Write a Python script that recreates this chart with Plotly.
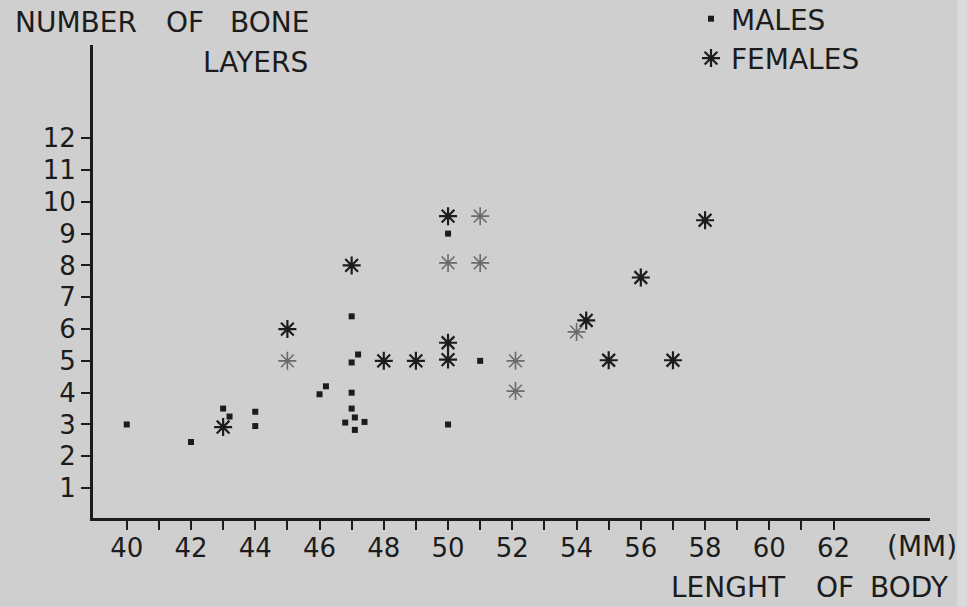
import plotly.graph_objects as go

# ---- data ----
males_x = [40, 42, 43, 43.2, 44, 44, 46, 46.2, 47, 47, 47.2, 47, 47, 47.1, 46.8, 47.1, 47.4, 50, 50, 51]
males_y = [3.0, 2.45, 3.5, 3.25, 3.4, 2.95, 3.95, 4.2, 6.4, 4.95, 5.2, 4.0, 3.5, 3.22, 3.06, 2.83, 3.08, 9.0, 3.0, 5.0]

females_x = [43, 45, 47, 48, 49, 50, 50, 50, 54.3, 55, 56, 57, 58]
females_y = [2.92, 6.0, 8.0, 5.0, 5.0, 9.55, 5.57, 5.04, 6.27, 5.02, 7.62, 5.02, 9.42]

females_faint_x = [45, 51, 50, 51, 52.1, 52.1, 54]
females_faint_y = [5.0, 9.55, 8.08, 8.08, 5.0, 4.05, 5.91]

x_ticks = list(range(40, 63))
x_tick_text = [str(v) if v % 2 == 0 else "" for v in x_ticks]
y_ticks = list(range(1, 13))

BG = "#cfcfcf"
INK = "#1c1c1c"
FONT = "DejaVu Sans"
FS = 26
FS_TXT = 28

W, H = 967, 607
L, R, T, B = 93, 37, 45, 89
PW, PH = W - L - R, H - T - B


def px(xp):
    return (xp - L) / PW


def py(yp):
    return (H - B - yp) / PH


fig = go.Figure()
fig.add_trace(go.Scatter(
    x=males_x, y=males_y, mode="markers", name="MALES",
    marker=dict(symbol="square", size=6, color=INK, line=dict(width=0)),
))
fig.add_trace(go.Scatter(
    x=females_x, y=females_y, mode="markers", name="FEMALES",
    marker=dict(symbol="asterisk-open", size=15, color=INK, line=dict(width=2.2, color="#262626")),
))
fig.add_trace(go.Scatter(
    x=females_faint_x, y=females_faint_y, mode="markers", name="FEMALES",
    showlegend=False,
    marker=dict(symbol="asterisk-open", size=15, color="#6a6a6a", line=dict(width=1.6, color="#6a6a6a")),
))

annotations = []


def word(text, x_left, y_mid):
    annotations.append(dict(
        text=text, xref="paper", yref="paper", x=px(x_left), y=py(y_mid),
        xanchor="left", yanchor="middle", showarrow=False,
        font=dict(family=FONT, size=FS_TXT, color=INK),
    ))


word("NUMBER", 13, 23)
word("OF", 164, 23)
word("BONE", 228, 23)
word("LAYERS", 201, 63)
word("(MM)", 885, 546)
word("LENGHT", 669, 587)
word("OF", 814, 587)
word("BODY", 868, 587)

fig.update_layout(
    width=W, height=H,
    margin=dict(l=L, r=R, t=T, b=B, pad=0, autoexpand=False),
    paper_bgcolor=BG, plot_bgcolor=BG,
    font=dict(family=FONT, size=FS, color=INK),
    showlegend=True,
    legend=dict(
        x=px(691), y=py(-6), xanchor="left", yanchor="top",
        bgcolor="rgba(0,0,0,0)", font=dict(family=FONT, size=FS_TXT, color=INK),
        itemsizing="trace", tracegroupgap=0,
    ),
    annotations=annotations,
    shapes=[dict(type="rect", xref="paper", yref="paper", layer="below",
                 x0=px(957), x1=px(967), y0=py(607), y1=py(0),
                 fillcolor="#dadada", line=dict(width=0))],
    xaxis=dict(
        range=[38.95, 65], showgrid=False, zeroline=False,
        showline=True, linewidth=3, linecolor=INK,
        tickmode="array", tickvals=x_ticks, ticktext=x_tick_text,
        ticks="outside", ticklen=9, tickwidth=2, tickcolor=INK,
        tickfont=dict(family=FONT, size=FS, color=INK),
        ticklabelstandoff=-4,
    ),
    yaxis=dict(
        range=[0.06, 14.93], showgrid=False, zeroline=False,
        showline=True, linewidth=3, linecolor=INK,
        tickmode="array", tickvals=y_ticks, ticktext=[str(v) for v in y_ticks],
        ticks="outside", ticklen=9, tickwidth=2, tickcolor=INK,
        tickfont=dict(family=FONT, size=FS, color=INK),
    ),
)

fig.write_html(
    "out.html",
    config={"displayModeBar": False},
    post_script="document.documentElement.style.margin='0';document.body.style.margin='0';"
                "document.body.style.padding='0';document.body.style.overflow='hidden';"
                "document.body.style.background='" + BG + "';",
)
